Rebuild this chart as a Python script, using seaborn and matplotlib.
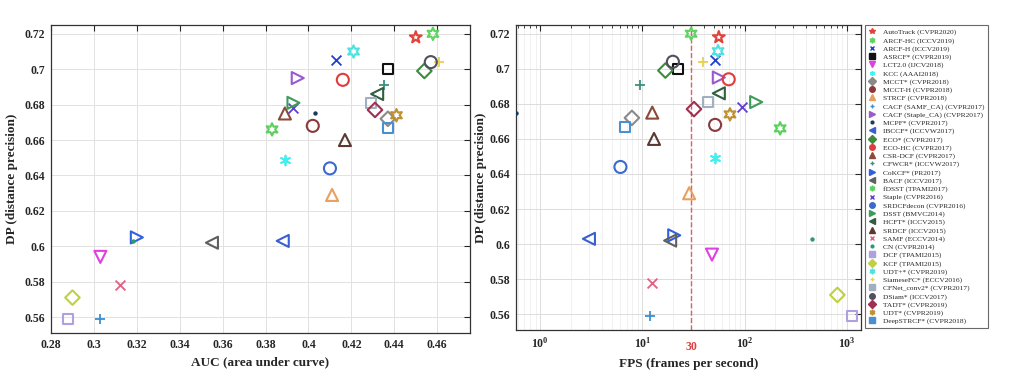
import numpy as np
import pandas as pd
import matplotlib
matplotlib.use("Agg")
import matplotlib.pyplot as plt
import matplotlib.ticker as mticker
from matplotlib.lines import Line2D
import seaborn as sns

# tracker results
trackers = ["AutoTrack (CVPR2020)", "ARCF-HC (ICCV2019)", "ARCF-H (ICCV2019)", "ASRCF* (CVPR2019)",
            "LCT2.0 (IJCV2018)", "KCC (AAAI2018)", "MCCT* (CVPR2018)", "MCCT-H (CVPR2018)",
            "STRCF (CVPR2018)", "CACF (SAMF_CA) (CVPR2017)", "CACF (Staple_CA) (CVPR2017)",
            "MCPF* (CVPR2017)", "IBCCF* (ICCVW2017)", "ECO* (CVPR2017)", "ECO-HC (CVPR2017)",
            "CSR-DCF (CVPR2017)", "CFWCR* (ICCVW2017)", "CoKCF* (PR2017)", "BACF (ICCV2017)",
            "fDSST (TPAMI2017)", "Staple (CVPR2016)", "SRDCFdecon (CVPR2016)", "DSST (BMVC2014)",
            "HCFT* (ICCV2015)", "SRDCF (ICCV2015)", "SAMF (ECCV2014)", "CN (CVPR2014)",
            "DCF (TPAMI2015)", "KCF (TPAMI2015)", "UDT+* (CVPR2019)", "SiameseFC* (ECCV2016)",
            "CFNet_conv2* (CVPR2017)", "DSiam* (ICCV2017)", "TADT* (CVPR2019)", "UDT* (CVPR2019)",
            "DeepSTRCF* (CVPR2018)"]
auc = [0.450, 0.458, 0.413, 0.437, 0.303, 0.389, 0.437, 0.402, 0.411, 0.303, 0.395,
       0.403, 0.388, 0.454, 0.416, 0.389, 0.435, 0.320, 0.355, 0.383, 0.393, 0.410,
       0.393, 0.432, 0.417, 0.312, 0.318, 0.288, 0.290, 0.421, 0.461, 0.429, 0.457,
       0.431, 0.441, 0.437]
dp = [0.718, 0.720, 0.705, 0.700, 0.594, 0.649, 0.672, 0.668, 0.629, 0.559, 0.695,
      0.675, 0.603, 0.699, 0.694, 0.675, 0.691, 0.605, 0.602, 0.666, 0.678, 0.644,
      0.681, 0.686, 0.660, 0.578, 0.603, 0.559, 0.571, 0.710, 0.704, 0.681, 0.704,
      0.677, 0.674, 0.667]
fps = [56, 30, 51, 22.4, 48, 51, 7.9, 51.5, 28.7, 11.9, 56,
       0.58, 3.0, 16.8, 70, 12.5, 9.5, 20.5, 18.7, 223, 95, 6.1,
       130, 56, 13, 12.4, 462, 1120, 810, 55, 39, 44, 19.9,
       32, 72, 6.8]

# marker style per tracker
markers = ["*", (6, 1, 0), "x", "s", "v", (6, 2, 0), "D", "o", "^", "+", ">",
           ".", "<", "D", "o", "^", "+", ">", "<", (6, 1, 0), "x", "o",
           ">", "<", "^", "x", ".", "s", "D", (6, 1, 0), "+", "s", "o",
           "D", (6, 1, 0), "s"]
colors = ["#e5403a", "#5fd35f", "#1f3fcf", "#111111", "#e040e0", "#40f0f0", "#8a8a8a",
          "#8b3a3a", "#e8a060", "#3a8fd0", "#9b59d0", "#1a3a5a", "#3a5fd0", "#3c8c3c",
          "#e03c3c", "#8b4a3a", "#3a9080", "#3060e0", "#606060", "#5cd05c", "#6040d0",
          "#3a6ad0", "#3c9c5c", "#2f5f3f", "#5a3a30", "#e06080", "#2a9a7a", "#b0a0e0",
          "#c0d040", "#50e0e0", "#e8d050", "#a0b0c0", "#505060", "#a03050", "#c09030",
          "#4a90d0"]

df = pd.DataFrame({"tracker": trackers, "auc": auc, "dp": dp, "fps": fps})

sns.set_theme(style="white")
plt.rcParams["font.family"] = ["Liberation Serif", "DejaVu Serif"]
plt.rcParams["mathtext.fontset"] = "stix"

fig = plt.figure(figsize=(10.1, 3.78), dpi=100)
ax1 = fig.add_axes([0.0505, 0.119, 0.4149, 0.815])
ax2 = fig.add_axes([0.5109, 0.127, 0.3416, 0.807])


def draw(ax, xcol):
    for i, row in df.iterrows():
        m = markers[i]
        c = colors[i]
        sub = df.iloc[[i]]
        if m in ("x", "+", (6, 2, 0)):
            sns.scatterplot(data=sub, x=xcol, y="dp", ax=ax, marker=m, color=c,
                            s=50, linewidth=1.3, zorder=3)
        elif m == ".":
            sns.scatterplot(data=sub, x=xcol, y="dp", ax=ax, marker="o", color=c,
                            s=10, linewidth=0, zorder=3)
        else:
            sz = 80 if m in ("*", (6, 1, 0)) else 75
            if m == "D":
                sz = 55
            if m == "s":
                sz = 50
            sns.scatterplot(data=sub, x=xcol, y="dp", ax=ax, marker=m, s=sz,
                            facecolor="none", edgecolor=c, linewidth=1.5, zorder=3)


def style(ax, labx):
    ax.set_ylim(0.551, 0.725)
    ax.yaxis.set_major_locator(mticker.MultipleLocator(0.02))
    ax.yaxis.set_major_formatter(mticker.FormatStrFormatter("%g"))
    ax.tick_params(direction="in", top=True, right=True, length=4, width=0.8,
                   labelsize=8.5, pad=4)
    ax.tick_params(which="minor", direction="in", top=True, right=True, length=2, width=0.6)
    for lab in ax.get_xticklabels() + ax.get_yticklabels():
        lab.set_fontweight("bold")
    for sp in ax.spines.values():
        sp.set_color("#333333")
        sp.set_linewidth(0.9)
    ax.set_ylabel("DP (distance precision)", fontsize=9.5, fontweight="bold")
    ax.yaxis.set_label_coords(labx, 0.5)


draw(ax1, "auc")
ax1.set_xlim(0.28, 0.4753)
ax1.xaxis.set_major_locator(mticker.MultipleLocator(0.02))
ax1.xaxis.set_major_formatter(mticker.FuncFormatter(lambda v, p: "%g" % round(v, 2)))
ax1.grid(True, color="#e2e2e2", linewidth=0.7)
ax1.set_axisbelow(True)
style(ax1, -0.079)
ax1.set_xlabel("AUC (area under curve)", fontsize=9.5, fontweight="bold", labelpad=4)

draw(ax2, "fps")
ax2.set_xscale("log")
ax2.set_xlim(0.58, 1380)
ax2.xaxis.set_major_locator(mticker.LogLocator(base=10))
ax2.xaxis.set_minor_locator(mticker.LogLocator(base=10, subs=np.arange(2, 10)))
ax2.xaxis.set_minor_formatter(mticker.NullFormatter())
ax2.grid(True, which="major", color="#dcdcdc", linewidth=0.7)
ax2.grid(True, which="minor", axis="x", color="#ececec", linewidth=0.5)
ax2.set_axisbelow(True)
ax2.axvline(30, color="#e06060", linestyle="--", linewidth=1.0, zorder=2)
style(ax2, -0.085)
ax2.text(30, -0.035, "30", transform=ax2.get_xaxis_transform(), color="#e04040",
         ha="center", va="top", fontsize=8.5, fontweight="bold")
ax2.set_xlabel("FPS (frames per second)", fontsize=9.5, fontweight="bold", labelpad=6)

# legend with small filled markers
handles = []
for m, c in zip(markers, colors):
    if m == ".":
        handles.append(Line2D([], [], linestyle="none", marker="o", markersize=2,
                              color=c))
    elif m in ("x", "+", (6, 2, 0)):
        handles.append(Line2D([], [], linestyle="none", marker=m, markersize=3.5,
                              color=c, markeredgewidth=1.0))
    else:
        handles.append(Line2D([], [], linestyle="none", marker=m, markersize=4,
                              color=c, markerfacecolor=c, markeredgecolor=c))
leg = fig.legend(handles, trackers, loc="upper left", bbox_to_anchor=(0.8564, 0.934),
                 fontsize=5.4, frameon=True, fancybox=False, edgecolor="#444444",
                 borderaxespad=0, labelspacing=0.22, handlelength=1.0, handletextpad=0.9,
                 borderpad=0.5)
leg.get_frame().set_linewidth(0.8)

fig.savefig("out.png", dpi=100)
